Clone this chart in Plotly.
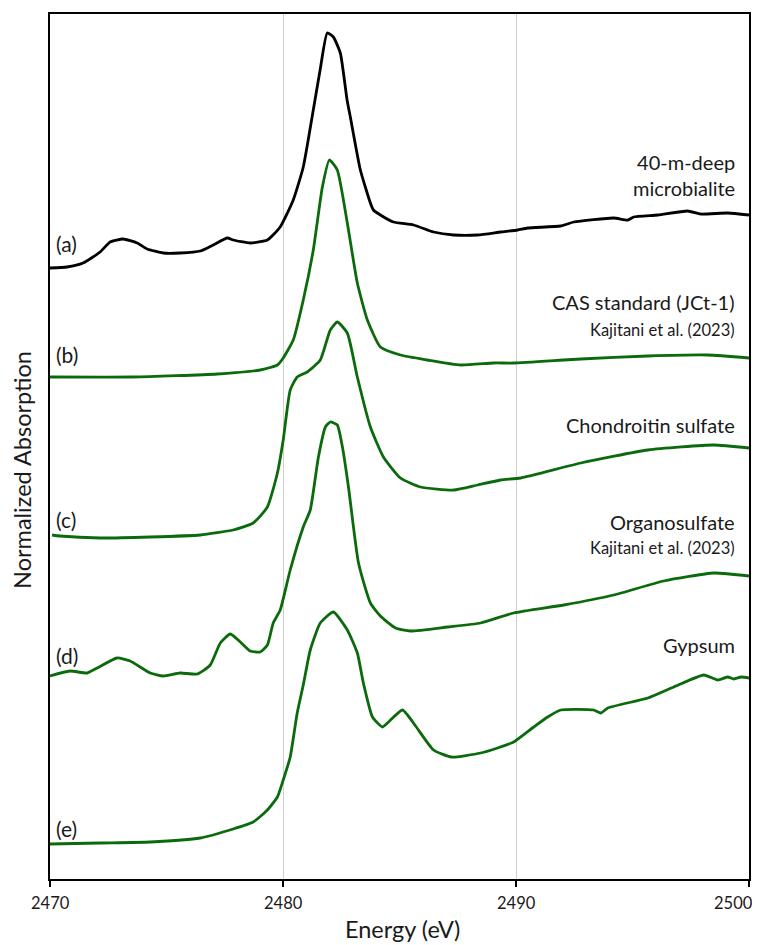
import plotly.graph_objects as go

# ---- data (energy in eV, stacked normalized absorption, arbitrary offset units) ----
E_a = [2470.0, 2470.73, 2471.42, 2472.15, 2472.58, 2473.14, 2473.74, 2474.17, 2474.86, 2475.59,
       2476.45, 2477.0, 2477.61, 2477.86, 2478.59, 2479.33, 2479.88, 2480.44, 2480.87, 2481.3,
       2481.6, 2481.9, 2482.16, 2482.46, 2482.75, 2482.89, 2483.32, 2483.75, 2483.88, 2484.18,
       2484.74, 2485.6, 2486.46, 2487.32, 2488.35, 2489.34, 2490.07, 2490.5, 2491.92, 2492.48,
       2494.19, 2494.8, 2495.05, 2496.09, 2497.37, 2497.93, 2499.09, 2500.0]
y_a = [6.11, 6.12, 6.16, 6.27, 6.37, 6.40, 6.36, 6.30, 6.26, 6.26,
       6.28, 6.34, 6.41, 6.39, 6.36, 6.39, 6.52, 6.79, 7.12, 7.69,
       8.10, 8.46, 8.42, 8.26, 7.79, 7.62, 7.09, 6.76, 6.69, 6.64,
       6.57, 6.54, 6.47, 6.44, 6.44, 6.47, 6.49, 6.51, 6.53, 6.57,
       6.61, 6.59, 6.62, 6.64, 6.68, 6.65, 6.66, 6.64]

E_b = [2470.0, 2473.57, 2477.18, 2479.02, 2479.76, 2480.01, 2480.44, 2480.87, 2481.30, 2481.69,
       2481.99, 2482.33, 2482.76, 2483.19, 2483.62, 2484.18, 2485.04, 2486.20, 2487.62, 2489.04,
       2489.90, 2492.78, 2495.66, 2498.23, 2500.0]
y_b = [5.02, 5.02, 5.05, 5.09, 5.14, 5.21, 5.39, 5.79, 6.29, 6.92,
       7.19, 7.09, 6.56, 5.96, 5.59, 5.32, 5.24, 5.19, 5.14, 5.16,
       5.16, 5.20, 5.23, 5.24, 5.21]

E_c = [2470.09, 2470.43, 2472.15, 2474.30, 2476.45, 2477.86, 2478.72, 2479.33, 2479.76, 2480.01,
       2480.31, 2480.61, 2481.04, 2481.60, 2482.03, 2482.33, 2482.76, 2483.19, 2483.75, 2484.31,
       2485.04, 2485.90, 2487.32, 2488.35, 2489.34, 2490.20, 2492.78, 2495.66, 2498.49, 2500.0]
y_c = [3.44, 3.43, 3.41, 3.42, 3.44, 3.49, 3.56, 3.72, 4.06, 4.39,
       4.89, 5.02, 5.07, 5.19, 5.49, 5.57, 5.46, 5.02, 4.52, 4.22,
       4.01, 3.92, 3.89, 3.94, 3.99, 4.01, 4.16, 4.29, 4.34, 4.31]

E_d = [2470.0, 2470.86, 2471.59, 2472.02, 2472.88, 2473.44, 2474.30, 2474.86, 2475.59, 2476.32,
       2476.88, 2477.31, 2477.74, 2478.17, 2478.59, 2479.02, 2479.33, 2479.58, 2479.88, 2480.31,
       2480.87, 2481.17, 2481.52, 2481.82, 2482.03, 2482.33, 2482.55, 2482.81, 2483.24, 2483.75,
       2484.18, 2484.83, 2485.47, 2487.06, 2488.48, 2489.90, 2492.05, 2494.19, 2496.34, 2498.49,
       2500.0]
y_d = [2.03, 2.08, 2.06, 2.11, 2.21, 2.18, 2.06, 2.03, 2.06, 2.05,
       2.14, 2.36, 2.45, 2.37, 2.28, 2.27, 2.34, 2.56, 2.69, 3.09,
       3.52, 3.69, 4.22, 4.52, 4.57, 4.54, 4.32, 3.92, 3.16, 2.76,
       2.63, 2.51, 2.48, 2.52, 2.56, 2.66, 2.74, 2.84, 2.98, 3.06,
       3.03]

E_e = [2470.0, 2472.15, 2474.30, 2476.45, 2477.86, 2478.72, 2479.33, 2479.76, 2480.01, 2480.31,
       2480.61, 2480.87, 2481.17, 2481.60, 2482.16, 2482.76, 2483.19, 2483.45, 2483.84, 2484.27,
       2484.53, 2485.13, 2485.69, 2486.46, 2487.23, 2488.48, 2489.21, 2489.90, 2490.76, 2491.36,
       2491.92, 2493.33, 2493.64, 2493.94, 2495.66, 2496.77, 2498.06, 2498.66, 2499.09, 2499.35,
       2499.66, 2500.0]
y_e = [0.35, 0.36, 0.37, 0.41, 0.50, 0.57, 0.69, 0.82, 0.99, 1.22,
       1.66, 1.94, 2.29, 2.56, 2.67, 2.49, 2.26, 1.96, 1.62, 1.52,
       1.57, 1.69, 1.53, 1.29, 1.22, 1.26, 1.31, 1.37, 1.52, 1.62,
       1.69, 1.69, 1.66, 1.71, 1.81, 1.92, 2.04, 1.99, 2.02, 2.00,
       2.02, 2.01]

series = [
    ("40-m-deep microbialite", E_a, y_a, "black"),
    ("CAS standard (JCt-1)", E_b, y_b, "#0b6a0b"),
    ("Chondroitin sulfate", E_c, y_c, "#0b6a0b"),
    ("Organosulfate", E_d, y_d, "#0b6a0b"),
    ("Gypsum", E_e, y_e, "#0b6a0b"),
]

letters = ["(a)", "(b)", "(c)", "(d)", "(e)"]
letter_y = [6.36, 5.25, 3.60, 2.24, 0.51]

right_labels = [
    ("40-m-deep<br>microbialite", 7.04, 20),
    ("CAS standard (JCt-1)", 5.77, 20),
    ("Kajitani et al. (2023)", 5.49, 16.5),
    ("Chondroitin sulfate", 4.54, 20),
    ("Organosulfate", 3.57, 20),
    ("Kajitani et al. (2023)", 3.31, 16.5),
    ("Gypsum", 2.34, 20),
]

x_ticks = [2470, 2480, 2490, 2500]

FONT = "Lato, 'Open Sans', sans-serif"
TXT = "#1a1a1a"

fig = go.Figure()
for name, xs, ys, col in series:
    fig.add_trace(go.Scatter(x=xs, y=ys, mode="lines", name=name,
                             line=dict(color=col, width=2.8, shape="spline", smoothing=0.5),
                             showlegend=False))

for lab, yv in zip(letters, letter_y):
    fig.add_annotation(x=2470.15, y=yv, xref="x", yref="y", text=lab, showarrow=False,
                       xanchor="left", yanchor="middle",
                       font=dict(family=FONT, size=21, color=TXT))

for txt, yv, sz in right_labels:
    fig.add_annotation(x=2499.5, y=yv, xref="x", yref="y", text=txt, showarrow=False,
                       xanchor="right", yanchor="middle", align="right",
                       font=dict(family=FONT, size=sz, color=TXT))

# tick labels (2500 is pulled inward as in the original)
for t in x_ticks:
    last = (t == x_ticks[-1])
    fig.add_annotation(x=t, y=-0.028, xref="x", yref="paper", text=str(t),
                       showarrow=False, xanchor="right" if last else "center",
                       xshift=6 if last else 0, yanchor="middle",
                       font=dict(family=FONT, size=16.5, color=TXT))

fig.add_annotation(x=0.505, y=-0.058, xref="paper", yref="paper", text="Energy (eV)",
                   showarrow=False, xanchor="center", yanchor="middle",
                   font=dict(family=FONT, size=23.5, color=TXT))
fig.add_annotation(x=-0.040, y=0.473, xref="paper", yref="paper", text="Normalized Absorption",
                   showarrow=False, xanchor="center", yanchor="middle", textangle=-90,
                   font=dict(family=FONT, size=23.5, color=TXT))

fig.update_xaxes(range=[2470, 2500], tickvals=x_ticks, showticklabels=False,
                 showgrid=True, gridcolor="#cfcfcf", gridwidth=1.2,
                 showline=True, linecolor="black", linewidth=2, mirror=True,
                 ticks="outside", ticklen=6, tickwidth=1.5, tickcolor="black",
                 zeroline=False, automargin=False)
fig.update_yaxes(range=[0, 8.65], showticklabels=False, ticks="", showgrid=False,
                 showline=True, linecolor="black", linewidth=2, mirror=True, zeroline=False,
                 automargin=False)

# the page adds an 8 px body margin; size the figure so the plot box lands where the original's does
fig.update_layout(width=752, height=937, plot_bgcolor="white", paper_bgcolor="white",
                  margin=dict(l=42, r=11, t=6, b=66))

fig.write_html("out.html")
